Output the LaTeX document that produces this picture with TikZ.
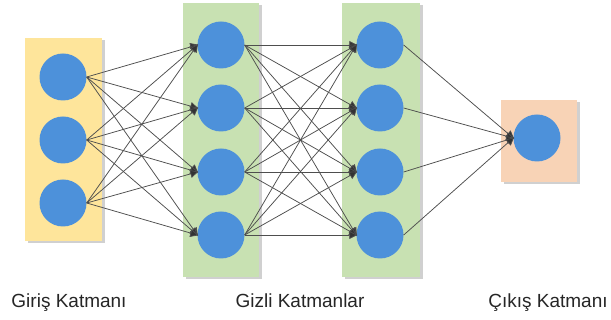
\documentclass[tikz,border=0pt]{standalone}
\usepackage{fontspec}
\setmainfont{Liberation Sans}
\usetikzlibrary{arrows.meta}
\definecolor{inyellow}{HTML}{FEE59B}
\definecolor{hidgreen}{HTML}{C8E1B2}
\definecolor{outpeach}{HTML}{F8D3B6}
\definecolor{neuron}{HTML}{4D91DA}
\definecolor{wire}{HTML}{4E4E4E}
\definecolor{tipcol}{HTML}{333333}
\tikzset{
  neuronnode/.style={circle,fill=neuron,minimum size=47pt,inner sep=0pt},
  layerbox/.style={fill=#1},
  boxshadow/.style={fill=black!30,opacity=0.6},
  link/.style={draw=wire,line width=0.75pt,-{Triangle[length=8pt,width=8pt,fill=tipcol]},shorten >=-1pt},
  caption/.style={font=\fontsize{19}{22}\selectfont,text=black!85,anchor=base}
}
\begin{document}
\begin{tikzpicture}[x=1pt,y=-1pt]
\useasboundingbox (0,0) rectangle (611,320);
\fill[white] (0,0) rectangle (611,320);

% layer panels with a soft shadow
\foreach \xa/\ya/\xb/\yb/\c in {25/38/102/241/inyellow,183/3/259/277/hidgreen,342/3/420/277/hidgreen,501/100/577/182/outpeach}{
  \fill[boxshadow] (\xa+2.5,\ya+2.5) rectangle (\xb+2.5,\yb+2.5);
  \fill[layerbox=\c] (\xa,\ya) rectangle (\xb,\yb);
}

% neurons
\node[neuronnode] (i1) at (63,77) {};
\node[neuronnode] (i2) at (63,140) {};
\node[neuronnode] (i3) at (63,203) {};
\foreach \n/\y in {1/45,2/108,3/172,4/235}{
  \node[neuronnode] (a\n) at (221,\y) {};
  \node[neuronnode] (b\n) at (380,\y) {};
}
\node[neuronnode] (o1) at (537,138) {};

% connections
\foreach \s in {1,2,3}{\foreach \t in {1,2,3,4}{\draw[link] (i\s.east) -- (a\t.west);}}
\foreach \s in {1,2,3,4}{\foreach \t in {1,2,3,4}{\draw[link] (a\s.east) -- (b\t.west);}}
\foreach \s in {1,2,3,4}{\draw[link] (b\s.east) -- (o1.west);}

% captions
\node[caption] (capin) at (69,308) {Giriş Katmanı};
\node[caption] (caphid) at (300,308) {Gizli Katmanlar};
\node[caption] (capout) at (548,308) {Çıkış Katmanı};
\end{tikzpicture}
\end{document}
